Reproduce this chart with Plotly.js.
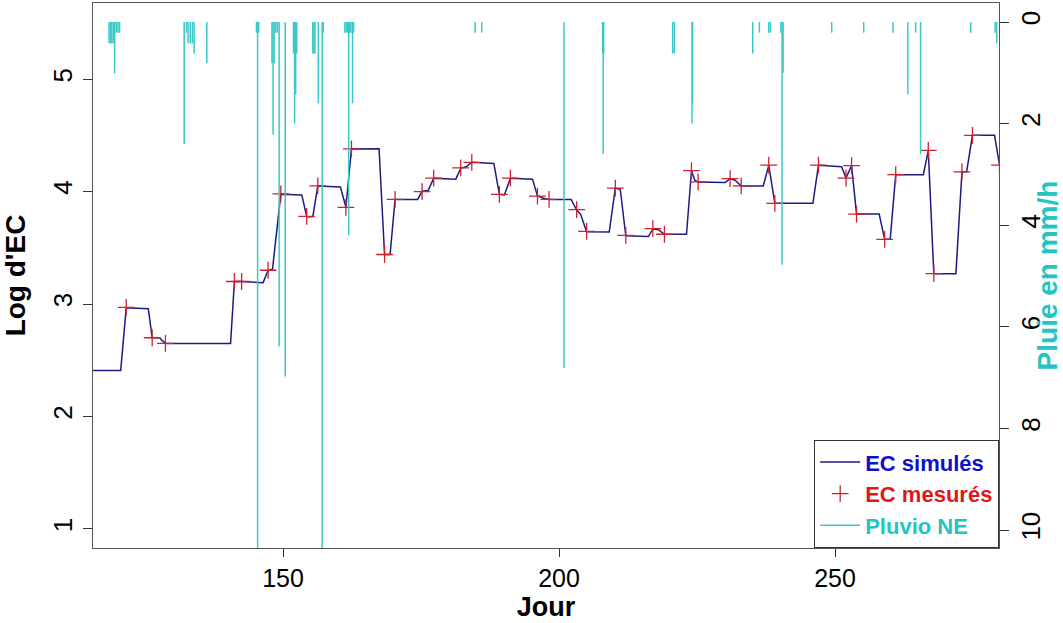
<!DOCTYPE html>
<html>
<head>
<meta charset="utf-8">
<script src="https://cdn.plot.ly/plotly-3.0.1.min.js"></script>
<style>html,body{margin:0;padding:0;background:#fff;}#chart{width:1063px;height:623px;}</style>
</head>
<body>
<div id="chart"></div>
<script>
// Simulated EC (log)
const simDays = [115.6,120.6,121.6,125.6,126.3,127.6,128.7,140.5,141.2,142.5,146.4,147.3,148.1,149.6,153.4,154.3,155.4,156.3,160.4,161.4,162.4,167.4,168.4,169.4,170.3,174.4,175.2,176.3,177.3,181.3,182.2,183.2,184.2,188.2,189.2,190.1,191.2,195.2,196.1,197.2,198.2,202.2,203.2,203.9,205.0,209.1,210.2,211.1,212.1,216.2,217.0,218.0,219.1,223.1,224.0,224.6,225.2,230.1,231.0,231.9,233.0,237.0,238.0,239.1,246.0,247.0,251.2,252.0,253.0,253.9,258.0,259.0,260.0,261.0,266.0,266.9,267.9,271.9,273.0,273.85,274.9,278.9,279.8];
const simVals = [2.41,2.41,2.967,2.958,2.70,2.70,2.65,2.65,3.20,3.20,3.19,3.30,3.31,3.975,3.97,3.776,3.776,4.049,4.04,3.86,4.378,4.38,3.44,3.44,3.93,3.93,4.004,4.01,4.117,4.11,4.206,4.22,4.26,4.25,3.975,3.97,4.117,4.11,3.96,3.94,3.93,3.93,3.836,3.80,3.643,3.64,4.03,4.02,3.607,3.60,3.667,3.66,3.62,3.62,4.185,4.10,4.084,4.08,4.114,4.10,4.049,4.05,4.233,3.895,3.895,4.233,4.22,4.12,4.23,3.80,3.80,3.575,3.575,4.15,4.15,4.363,3.27,3.27,4.176,4.176,4.50,4.50,4.236];

// Measured EC (log)
const mesDays = [121.6,126.3,128.7,141.2,142.5,147.3,149.6,154.3,156.3,161.4,162.4,168.4,170.3,175.2,177.3,182.2,184.2,189.2,191.2,196.1,198.2,203.2,205.0,210.2,212.1,217.0,219.1,224.0,225.2,231.0,233.0,238.0,239.1,247.0,252.0,253.0,253.9,259.0,261.0,266.9,267.9,273.0,274.9,279.8];
const mesVals = [2.97,2.70,2.65,3.20,3.20,3.30,3.98,3.78,4.05,3.86,4.38,3.44,3.93,4.00,4.12,4.21,4.26,3.975,4.12,3.96,3.93,3.84,3.645,4.03,3.61,3.67,3.62,4.185,4.085,4.115,4.05,4.235,3.895,4.235,4.12,4.23,3.80,3.575,4.15,4.365,3.27,4.175,4.50,4.235];

// Rain (mm/h)
const rainDays = [118.5,118.8,119.0,119.3,119.5,119.8,120.1,120.4,132.1,132.5,132.8,133.2,133.6,133.9,136.2,145.2,145.4,145.6,148.0,148.2,148.4,148.7,149.0,149.3,150.4,151.9,152.1,152.3,152.5,155.4,155.6,155.8,156.4,157.1,157.3,161.2,161.5,161.7,161.9,162.1,162.3,162.6,162.8,184.8,186.0,200.9,207.9,208.0,208.1,220.6,220.9,224.1,224.2,235.1,236.3,238.0,238.3,240.2,240.4,240.6,249.4,255.2,260.5,263.2,264.6,265.5,274.6,279.0,279.3];
const rainVals = [0.42,0.42,0.42,0.42,1.01,0.21,0.21,0.21,2.40,0.21,0.42,0.42,0.42,0.62,0.81,0.21,11,0.21,0.81,2.22,0.81,0.21,0.21,6.39,6.98,0.62,2.0,1.43,0.62,0.62,0.62,0.62,1.6,11,0.21,0.21,0.21,0.21,4.2,0.21,0.21,1.6,0.21,0.21,0.21,6.81,0.62,2.6,0.62,0.62,0.62,2.0,1.6,0.62,0.21,0.21,0.21,0.21,4.78,1.0,0.21,0.21,0.21,1.42,0.21,2.6,0.21,0.21,0.42];

const xTicks = [150,200,250];
const yTicks = [1,2,3,4,5];
const y2Ticks = [0,2,4,6,8,10];

const rx = [], ry = [];
for (let i = 0; i < rainDays.length; i++) {
  rx.push(rainDays[i], rainDays[i], null);
  ry.push(0, rainVals[i], null);
}

const traces = [
  {x: simDays, y: simVals, type: 'scatter', mode: 'lines', name: '<b><span style="color:#1010cc">EC simulés</span></b>',
   line: {color: '#1c1c80', width: 1.5}},
  {x: mesDays, y: mesVals, type: 'scatter', mode: 'markers', name: '<b><span style="color:#e01818">EC mesurés</span></b>',
   marker: {symbol: 'cross-thin-open', size: 12, color: '#d02030', line: {color: '#d02030', width: 1.3}}},
  {x: rx, y: ry, type: 'scatter', mode: 'lines', yaxis: 'y2', name: '<b><span style="color:#22c4c4">Pluvio NE</span></b>',
   line: {color: '#3cc8c8', width: 1.5}, connectgaps: false}
];

const axFont = {family: 'Liberation Sans, Arial, sans-serif', size: 26, color: '#000'};
const layout = {
  width: 1063, height: 623,
  paper_bgcolor: '#fff', plot_bgcolor: '#fff',
  margin: {l: 93, r: 64, t: 3, b: 75},
  showlegend: true,
  font: {family: 'Liberation Sans, Arial, sans-serif'},
  xaxis: {range: [115.58, 279.71], tickvals: xTicks, ticktext: xTicks.map(String), ticks: 'outside', ticklen: 8,
    tickcolor: '#333', showgrid: false, zeroline: false, showline: true, linecolor: '#555', linewidth: 1.2, mirror: true,
    tickfont: {family: 'Liberation Sans, Arial, sans-serif', size: 25, color: '#000'},
    title: {text: '<b>Jour</b>', font: {family: 'Liberation Sans, Arial, sans-serif', size: 27, color: '#000'}, standoff: 2}},
  yaxis: {range: [0.831, 5.676], tickvals: yTicks, ticktext: yTicks.map(String), ticks: 'outside', ticklen: 9, tickangle: -90,
    tickcolor: '#333', showgrid: false, zeroline: false, showline: true, linecolor: '#555', linewidth: 1.2, mirror: true,
    tickfont: axFont, title: {text: "<b>Log d'EC</b>", font: {family: 'Liberation Sans, Arial, sans-serif', size: 28, color: '#000'}, standoff: 14}},
  yaxis2: {overlaying: 'y', side: 'right', range: [10.354, -0.374], tickvals: y2Ticks, ticktext: y2Ticks.map(String),
    ticks: 'outside', ticklen: 9, tickangle: -90, tickcolor: '#333', showgrid: false, zeroline: false, showline: false,
    tickfont: axFont, title: {text: '<b>Pluie en mm/h</b>', font: {family: 'Liberation Sans, Arial, sans-serif', size: 28, color: '#22c4c4'}, standoff: 16}},
  legend: {x: 1, xanchor: 'right', y: 0, yanchor: 'bottom', bgcolor: '#fff', bordercolor: '#333', borderwidth: 1.2,
    font: {family: 'Liberation Sans, Arial, sans-serif', size: 22}, tracegroupgap: 0, itemwidth: 40}
};

Plotly.newPlot('chart', traces, layout, {displayModeBar: false, staticPlot: true});
</script>
</body>
</html>
